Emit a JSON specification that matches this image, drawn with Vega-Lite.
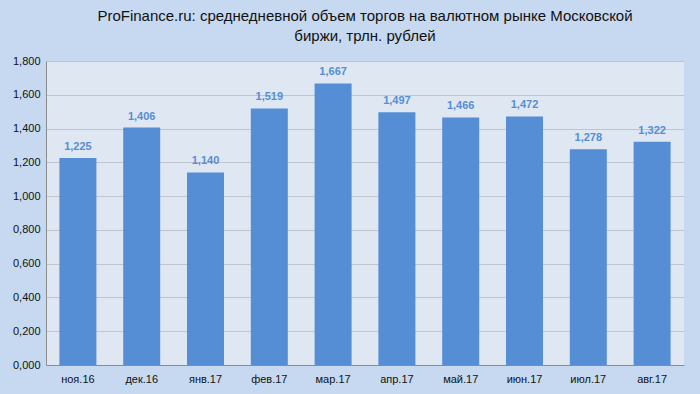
{
  "$schema": "https://vega.github.io/schema/vega-lite/v6.json",
  "autosize": {"type": "fit", "contains": "padding"},
  "width": 700,
  "height": 394,
  "padding": {"left": 12, "right": 16, "top": 9, "bottom": 10},
  "background": "#c6d9f0",
  "title": {
    "text": ["ProFinance.ru: среднедневной объем торгов на валютном рынке Московской", "биржи, трлн. рублей"],
    "font": "Liberation Sans",
    "fontSize": 15,
    "fontWeight": "normal",
    "color": "#111111",
    "lineHeight": 20,
    "anchor": "middle",
    "offset": 11
  },
  "data": {
    "values": [
      {"month": "ноя.16", "value": 1.225},
      {"month": "дек.16", "value": 1.406},
      {"month": "янв.17", "value": 1.140},
      {"month": "фев.17", "value": 1.519},
      {"month": "мар.17", "value": 1.667},
      {"month": "апр.17", "value": 1.497},
      {"month": "май.17", "value": 1.466},
      {"month": "июн.17", "value": 1.472},
      {"month": "июл.17", "value": 1.278},
      {"month": "авг.17", "value": 1.322}
    ]
  },
  "encoding": {
    "x": {
      "field": "month", "type": "nominal", "sort": null,
      "scale": {"paddingInner": 0.42, "paddingOuter": 0.21},
      "axis": {"title": null, "labelAngle": 0, "ticks": false, "labelPadding": 8, "domainColor": "#8c8c8c", "labelFontSize": 11, "labelColor": "#111111", "labelFont": "Liberation Sans"}
    },
    "y": {
      "field": "value", "type": "quantitative",
      "scale": {"domain": [0, 1.8]},
      "axis": {"title": null, "values": [0, 0.2, 0.4, 0.6, 0.8, 1.0, 1.2, 1.4, 1.6, 1.8], "format": ".3f", "ticks": false, "labelPadding": 6, "domainColor": "#8c8c8c", "gridColor": "#c0c4cc", "labelFontSize": 11, "labelColor": "#111111", "labelFont": "Liberation Sans"}
    }
  },
  "layer": [
    {"mark": {"type": "bar", "color": "#558ed5"}},
    {"mark": {"type": "text", "baseline": "bottom", "dy": -6, "color": "#558ed5", "fontWeight": "bold", "fontSize": 11, "font": "Liberation Sans"},
     "encoding": {"text": {"field": "value", "type": "quantitative", "format": ".3f"}}}
  ],
  "config": {
    "locale": {"number": {"decimal": ",", "thousands": " ", "grouping": [3], "currency": ["", ""]}},
    "view": {"fill": "#dfe7f2", "stroke": null}
  }
}
